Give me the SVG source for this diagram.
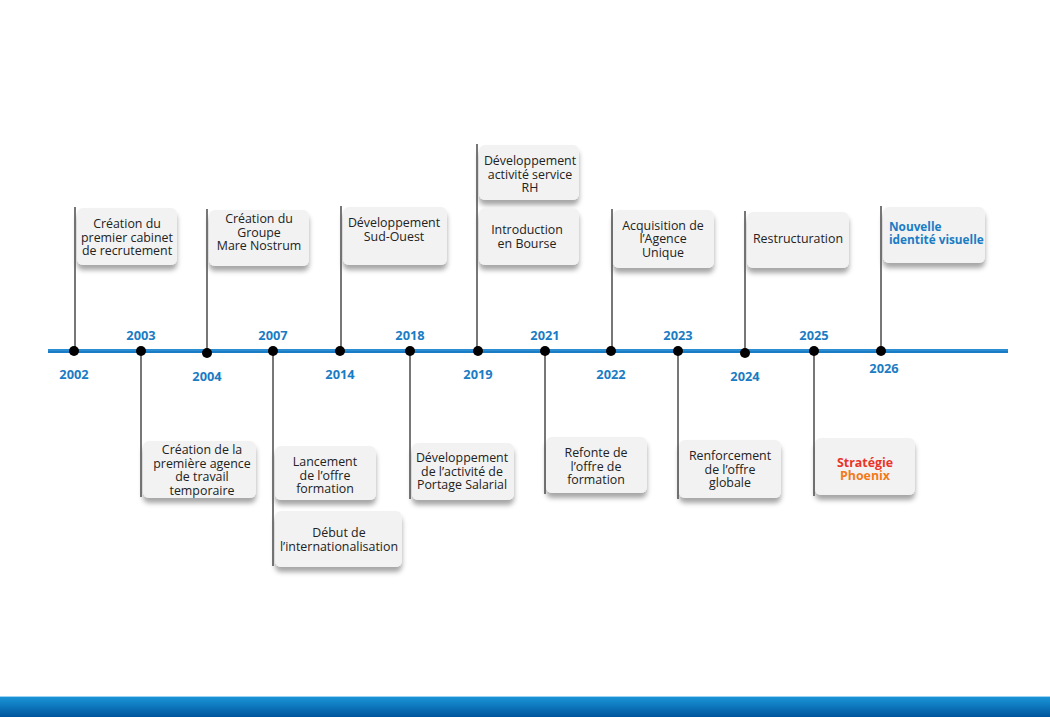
<svg xmlns="http://www.w3.org/2000/svg" width="1050" height="717" viewBox="0 0 1050 717">
<defs>
<filter id="sh" x="-20%" y="-20%" width="140%" height="160%">
<feDropShadow dx="0" dy="5" stdDeviation="2.5" flood-color="#000" flood-opacity="0.35"/>
</filter>
<linearGradient id="bar" x1="0" y1="0" x2="0" y2="1">
<stop offset="0" stop-color="#1b98da"/>
<stop offset="1" stop-color="#00559e"/>
</linearGradient>
<style>
.card{fill:#f2f2f2;filter:url(#sh)}
.t{font-family:"Open Sans","Liberation Sans",sans-serif;font-size:12.4px;fill:#222;text-anchor:middle}
.y{font-family:"Open Sans","Liberation Sans",sans-serif;font-size:12.8px;font-weight:700;fill:#1a7cc4;text-anchor:middle}
.v{stroke:#4a4a4a;stroke-width:1.5;fill:none}
.dot{fill:#000}
.b{font-family:"Open Sans","Liberation Sans",sans-serif;font-size:11.8px;font-weight:700;fill:#1a7cc4}
.s{font-family:"Open Sans","Liberation Sans",sans-serif;font-size:12.4px;font-weight:700;text-anchor:middle}
</style>
</defs>
<rect width="1050" height="717" fill="#fff"/>
<rect x="0" y="696" width="1050" height="21" fill="url(#bar)"/>
<rect x="0" y="696" width="1050" height="1" fill="#9fd3f0"/>

<g id="n2002"><rect class="card" x="77" y="208" width="100" height="57" rx="6"/><text class="t" x="127" y="228">Création du<tspan x="127" dy="13.5">premier cabinet</tspan><tspan x="127" dy="13.5">de recrutement</tspan></text></g>
<g id="n2004"><rect class="card" x="209" y="210" width="100" height="56" rx="6"/><text class="t" x="259" y="223">Création du<tspan x="259" dy="13.5">Groupe</tspan><tspan x="259" dy="13.5">Mare Nostrum</tspan></text></g>
<g id="n2014"><rect class="card" x="343" y="207" width="104" height="58" rx="6"/><text class="t" x="394" y="227">Développement<tspan x="394" dy="13.5">Sud-Ouest</tspan></text></g>
<g id="n2019a"><rect class="card" x="479" y="145" width="100" height="55" rx="6"/><text class="t" x="530" y="165">Développement<tspan x="530" dy="13.5">activité service</tspan><tspan x="530" dy="13.5">RH</tspan></text></g>
<g id="n2019b"><rect class="card" x="479" y="208" width="100" height="57" rx="6"/><text class="t" x="527" y="234">Introduction<tspan x="527" dy="13.5">en Bourse</tspan></text></g>
<g id="n2022"><rect class="card" x="613" y="210" width="101" height="58" rx="6"/><text class="t" x="663" y="230">Acquisition de<tspan x="663" dy="13.3">l’Agence</tspan><tspan x="663" dy="13.3">Unique</tspan></text></g>
<g id="n2024"><rect class="card" x="747" y="212" width="102" height="56" rx="6"/><text class="t" x="798" y="243">Restructuration</text></g>
<g id="n2026"><rect class="card" x="883" y="207" width="102" height="56" rx="6"/><text class="b" x="889" y="231">Nouvelle<tspan x="889" dy="13.3">identité visuelle</tspan></text></g>

<g id="n2003"><rect class="card" x="143" y="441" width="113" height="57" rx="6"/><text class="t" x="202" y="454">Création de la<tspan x="202" dy="13.6">première agence</tspan><tspan x="202" dy="13.6">de travail</tspan><tspan x="202" dy="13.6">temporaire</tspan></text></g>
<g id="n2007a"><rect class="card" x="275" y="446" width="101" height="54" rx="6"/><text class="t" x="325" y="466">Lancement<tspan x="325" dy="13.5">de l’offre</tspan><tspan x="325" dy="13.5">formation</tspan></text></g>
<g id="n2007b"><rect class="card" x="275" y="511" width="127" height="56" rx="6"/><text class="t" x="339" y="537">Début de<tspan x="339" dy="14">l’internationalisation</tspan></text></g>
<g id="n2018"><rect class="card" x="412" y="443" width="102" height="57" rx="6"/><text class="t" x="462" y="462">Développement<tspan x="462" dy="13.5">de l’activité de</tspan><tspan x="462" dy="13.5">Portage Salarial</tspan></text></g>
<g id="n2021"><rect class="card" x="546" y="437" width="101" height="56" rx="6"/><text class="t" x="596" y="457">Refonte de<tspan x="596" dy="13.5">l’offre de</tspan><tspan x="596" dy="13.5">formation</tspan></text></g>
<g id="n2023"><rect class="card" x="679" y="440" width="102" height="58" rx="6"/><text class="t" x="730" y="460">Renforcement<tspan x="730" dy="13.5">de l’offre</tspan><tspan x="730" dy="13.5">globale</tspan></text></g>
<g id="n2025"><rect class="card" x="815" y="438" width="100" height="57" rx="6"/><text class="s" x="865" y="467" fill="#e8352a">Stratégie<tspan x="865" dy="13.3" fill="#f27a1a">Phoenix</tspan></text></g>

<g id="connectors">
<line x1="48" y1="351" x2="1008" y2="351" stroke="#1a7cc4" stroke-width="4"/>
<line x1="48" y1="350" x2="1008" y2="350" stroke="#3fa0e0" stroke-width="1"/>
<line class="v" x1="75" y1="207" x2="75" y2="351"/>
<line class="v" x1="207" y1="209" x2="207" y2="352"/>
<line class="v" x1="341" y1="206" x2="341" y2="351"/>
<line class="v" x1="477" y1="144" x2="477" y2="351"/>
<line class="v" x1="612" y1="209" x2="612" y2="351"/>
<line class="v" x1="745" y1="211" x2="745" y2="352"/>
<line class="v" x1="881" y1="206" x2="881" y2="351"/>
<line class="v" x1="141" y1="351" x2="141" y2="497"/>
<line class="v" x1="273" y1="351" x2="273" y2="566"/>
<line class="v" x1="410" y1="351" x2="410" y2="499"/>
<line class="v" x1="545" y1="351" x2="545" y2="494"/>
<line class="v" x1="678" y1="351" x2="678" y2="499"/>
<line class="v" x1="814" y1="351" x2="814" y2="496" stroke="#6f786a"/>
<circle class="dot" cx="74" cy="351" r="5"/>
<circle class="dot" cx="141" cy="351" r="5"/>
<circle class="dot" cx="207" cy="353" r="5"/>
<circle class="dot" cx="273" cy="351" r="5"/>
<circle class="dot" cx="340" cy="351" r="5"/>
<circle class="dot" cx="410" cy="351" r="5"/>
<circle class="dot" cx="478" cy="351" r="5"/>
<circle class="dot" cx="545" cy="351" r="5"/>
<circle class="dot" cx="611" cy="351" r="5"/>
<circle class="dot" cx="678" cy="351" r="5"/>
<circle class="dot" cx="745" cy="353" r="5"/>
<circle class="dot" cx="814" cy="351" r="5"/>
<circle class="dot" cx="881" cy="351" r="5"/>
</g>

<g id="years">
<text class="y" x="74" y="379">2002</text>
<text class="y" x="141" y="340">2003</text>
<text class="y" x="207" y="381">2004</text>
<text class="y" x="273" y="340">2007</text>
<text class="y" x="340" y="379">2014</text>
<text class="y" x="410" y="340">2018</text>
<text class="y" x="478" y="379">2019</text>
<text class="y" x="545" y="340">2021</text>
<text class="y" x="611" y="379">2022</text>
<text class="y" x="678" y="340">2023</text>
<text class="y" x="745" y="381">2024</text>
<text class="y" x="814" y="340">2025</text>
<text class="y" x="884" y="373">2026</text>
</g>
</svg>
